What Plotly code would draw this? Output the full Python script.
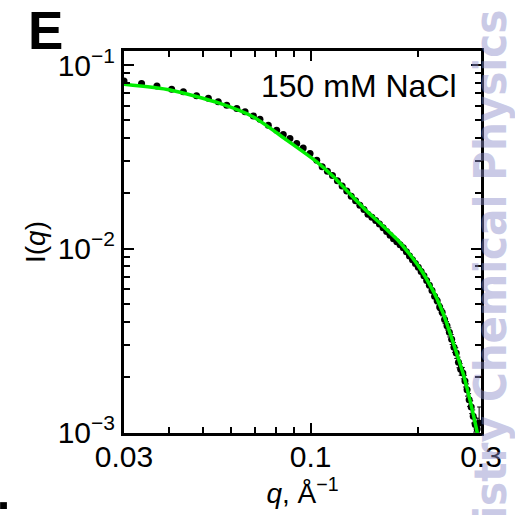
import math
import plotly.graph_objects as go

# ---- data ----
q_data = [0.0300, 0.0336, 0.0371, 0.0408, 0.0440, 0.0479, 0.0517, 0.0551, 0.0582, 0.0621,
          0.0655, 0.0691, 0.0721, 0.0761, 0.0803, 0.0838, 0.0875, 0.0914, 0.0953, 0.0996,
          0.1040, 0.1077, 0.1114, 0.1151, 0.1188, 0.1225, 0.1262, 0.1299, 0.1336, 0.1373,
          0.1410, 0.1447, 0.1484, 0.1521, 0.1558, 0.1595, 0.1632, 0.1669, 0.1706, 0.1743,
          0.1780, 0.1817, 0.1854, 0.1891, 0.1928, 0.1965, 0.2002, 0.2039, 0.2076, 0.2113,
          0.2150, 0.2187, 0.2224, 0.2261, 0.2298, 0.2335, 0.2372, 0.2409, 0.2446, 0.2483,
          0.2520, 0.2557, 0.2594, 0.2631, 0.2668, 0.2705, 0.2742, 0.2779, 0.2816, 0.2853,
          0.2890, 0.2927, 0.2964]
I_data = [0.0818, 0.0794, 0.0768, 0.0737, 0.0715, 0.0680, 0.0658, 0.0630, 0.0604, 0.0580,
          0.0556, 0.0528, 0.0507, 0.0470, 0.0441, 0.0418, 0.0398, 0.0373, 0.0353, 0.0329,
          0.0303, 0.0279, 0.0264, 0.0250, 0.0234, 0.0219, 0.0206, 0.0193, 0.0182, 0.0172,
          0.0163, 0.0154, 0.0148, 0.0142, 0.0136, 0.0130, 0.0124, 0.0118, 0.0113, 0.0109,
          0.0105, 0.0101, 0.0096, 0.0091, 0.0087, 0.0083, 0.0079, 0.0075, 0.0071, 0.0067,
          0.0063, 0.0059, 0.0055, 0.0052, 0.0048, 0.0045, 0.0041, 0.0038, 0.0035, 0.0032,
          0.0029, 0.0027, 0.0024, 0.0022, 0.0021, 0.0019, 0.0017, 0.0015, 0.00137, 0.00122,
          0.00110, 0.00104, 0.00112]
I_err = [0, 0, 0, 0, 0, 0, 0, 0, 0, 0,
         0, 0, 0, 0, 0, 0, 0, 0, 0, 0,
         0, 0, 0, 0, 0, 0, 0, 0, 0, 0,
         0, 0, 0, 0, 0, 0, 0, 0, 0, 0,
         0, 0, 0, 0, 0, 0, 0, 0, 0, 0,
         0, 0, 0, 0.0002, 0.0002, 0.0002, 0.0002, 0.0002, 0.0002, 0.0002,
         0.00018, 0.00018, 0.00016, 0.00016, 0.00015, 0.00014, 0.00013, 0.00012, 0.00011, 0.0001,
         0.0001, 0.00015, 0.00025]

q_fit = [0.0300, 0.0404, 0.0557, 0.0689, 0.0857, 0.1040, 0.1157, 0.1289, 0.1435, 0.1564,
         0.1741, 0.1838, 0.1939, 0.2047, 0.2159, 0.2254, 0.2353, 0.2510, 0.2676, 0.2795,
         0.2918, 0.2952]
I_fit = [0.0785, 0.0731, 0.0618, 0.0523, 0.0390, 0.0297, 0.02469, 0.01982, 0.01601, 0.01372,
         0.01127, 0.0100, 0.00877, 0.00754, 0.00632, 0.00537, 0.00440, 0.00305, 0.00207, 0.00149,
         0.001025, 0.000904]

x_tickvals = [0.03, 0.1, 0.3]
x_ticktext = ["0.03", "0.1", "0.3"]
y_tickvals = [0.001, 0.01, 0.1]
y_ticktext = ["10<sup>−3</sup>", "10<sup>−2</sup>", "10<sup>−1</sup>"]

FONT = "Liberation Sans, Arial, Helvetica, sans-serif"
NARROW = "Liberation Sans Narrow, Arial Narrow, DejaVu Sans Condensed, sans-serif"

fig = go.Figure()
fig.add_trace(go.Scatter(
    x=q_data, y=I_data, mode="markers",
    marker=dict(color="black", size=7),
    error_y=dict(type="data", array=I_err, visible=True, color="black", thickness=1, width=2),
    showlegend=False,
))
fig.add_trace(go.Scatter(
    x=q_fit, y=I_fit, mode="lines",
    line=dict(color="#00ee00", width=3.5, shape="spline", smoothing=0.6),
    showlegend=False,
))

axis_common = dict(
    type="log", showgrid=False, zeroline=False,
    showline=True, linecolor="black", linewidth=3, mirror="allticks",
    ticks="inside", ticklen=10, tickwidth=2, tickcolor="black",
    tickfont=dict(family=FONT, size=30, color="black"),
    minor=dict(ticks="inside", ticklen=6, tickwidth=2, tickcolor="black", dtick="D1"),
)

fig.update_xaxes(
    **axis_common,
    range=[math.log10(0.03), math.log10(0.3)],
    tickmode="array", tickvals=x_tickvals, ticktext=x_ticktext,
    ticklabelstandoff=-5,
    title=dict(text="<i>q</i>, Å<sup>−1</sup>", font=dict(family=FONT, size=28, color="black"), standoff=4),
)
fig.update_yaxes(
    **axis_common,
    range=[-3.005, -0.9237],
    tickmode="array", tickvals=y_tickvals, ticktext=y_ticktext,
    title=dict(text="I(<i>q</i>)", font=dict(family=FONT, size=28, color="black"), standoff=4),
)

fig.update_layout(
    width=515, height=515,
    margin=dict(l=124, r=34, t=51, b=82, autoexpand=False),
    paper_bgcolor="white", plot_bgcolor="white",
    font=dict(family=FONT, color="black"),
    annotations=[
        dict(text="150 mM NaCl", xref="paper", yref="paper", x=0.658, y=0.908,
             xanchor="center", yanchor="middle", showarrow=False,
             font=dict(family=FONT, size=32, color="black")),
        dict(text="<b>E</b>", xref="paper", yref="paper", x=-0.2185, y=1.0524,
             xanchor="center", yanchor="middle", showarrow=False,
             font=dict(family=FONT, size=53, color="black")),
        dict(text="<b>mistry Chemical Physics A</b>", xref="paper", yref="paper",
             x=1.025, y=0.445, xanchor="center", yanchor="middle", showarrow=False,
             textangle=-90, opacity=0.45,
             font=dict(family=NARROW, size=45, color="rgb(140,140,200)")),
    ],
    shapes=[
        dict(type="rect", xref="paper", yref="paper", x0=-0.347, x1=-0.328, y0=-0.199, y1=-0.181,
             fillcolor="black", line=dict(width=0)),
    ],
)

fig.write_html("out.html", config={"displayModeBar": False},
               post_script="document.body.style.margin='0';document.body.style.overflow='hidden';")
